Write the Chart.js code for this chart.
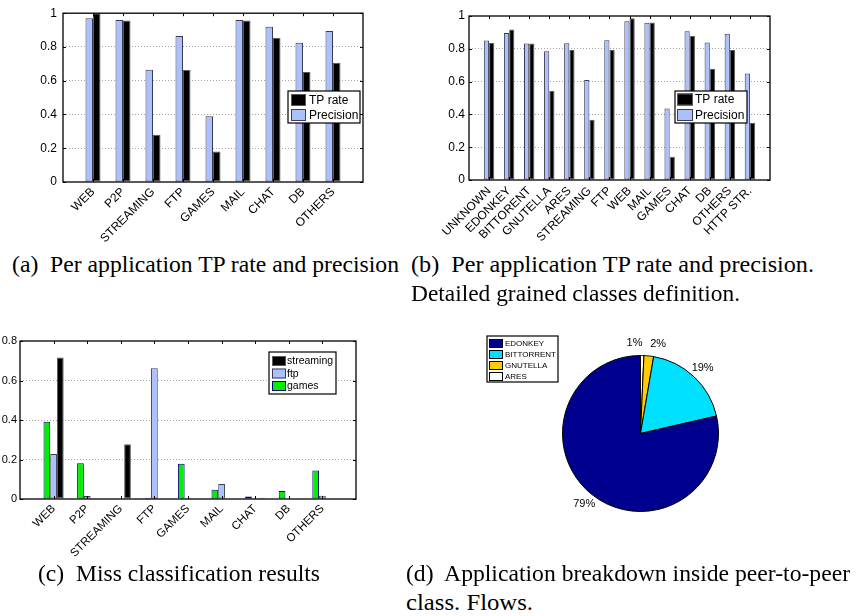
<!DOCTYPE html>
<html>
<head>
<meta charset="utf-8">
<script src="https://cdn.jsdelivr.net/npm/chart.js@4.4.1/dist/chart.umd.min.js"></script>
<style>
html,body{margin:0;padding:0;background:#fff;}
body{width:858px;height:616px;position:relative;overflow:hidden;}
canvas{position:absolute;}
.cap{position:absolute;font-family:"Liberation Serif","Times New Roman",serif;font-size:23px;line-height:23px;white-space:pre;transform-origin:0 0;color:#000;}
</style>
</head>
<body>
<canvas id="cA" width="430" height="245" style="left:0;top:0"></canvas>
<canvas id="cB" width="428" height="245" style="left:430px;top:0"></canvas>
<canvas id="cC" width="430" height="262" style="left:0;top:300px"></canvas>
<canvas id="cD" width="428" height="240" style="left:430px;top:300px"></canvas>
<script>
// ---------- data ----------
const catsA = ['WEB','P2P','STREAMING','FTP','GAMES','MAIL','CHAT','DB','OTHERS'];
const precisionA = [0.97,0.96,0.665,0.865,0.39,0.96,0.92,0.825,0.895];
const tpRateA = [1.0,0.957,0.28,0.663,0.18,0.957,0.855,0.652,0.707];

const catsB = ['UNKNOWN','EDONKEY','BITTORENT','GNUTELLA','ARES','STREAMING','FTP','WEB','MAIL','GAMES','CHAT','DB','OTHERS','HTTP STR.'];
const precisionB = [0.85,0.897,0.832,0.785,0.834,0.609,0.852,0.968,0.959,0.436,0.907,0.838,0.892,0.65];
const tpRateB = [0.836,0.917,0.832,0.544,0.793,0.367,0.793,0.986,0.961,0.142,0.878,0.677,0.793,0.349];

const catsC = ['WEB','P2P','STREAMING','FTP','GAMES','MAIL','CHAT','DB','OTHERS'];
const gamesC = [0.391,0.181,0.001,0.005,0.179,0.047,0.013,0.041,0.144];
const ftpC = [0.228,0.015,0.001,0.662,0.005,0.076,0.003,0.002,0.017];
const streamingC = [0.716,0.004,0.277,0,0.002,0,0.006,0,0.003];

const pieLabels = ['EDONKEY','BITTORRENT','GNUTELLA','ARES'];
const pieShares = [78.6,18.7,2.0,0.7];

const yTicksAB = [0,0.2,0.4,0.6,0.8,1];
const yTicksC = [0,0.2,0.4,0.6,0.8];

// ---------- styles ----------
const FONT = '"Liberation Sans", Arial, Helvetica, sans-serif';
const BLUE = '#abc1fd', BLUE_EDGE = '#3c3c4c';
const BLACK = '#000000', BLACK_EDGE = '#5a5a5a';
const GREEN = '#00f000', GREEN_EDGE = '#00007a';
const pieColors = ['#00008f','#00e0ff','#ffcc00','#ffffff'];

Chart.defaults.font.family = FONT;
Chart.defaults.color = '#000';
Chart.defaults.animation = false;

const framePlugin = {
  id: 'frame',
  afterDraw(chart) {
    const {ctx, chartArea: a, scales: {x, y}} = chart;
    ctx.save();
    ctx.strokeStyle = '#000';
    ctx.lineWidth = 1;
    const L = 3;
    ctx.beginPath();
    x.ticks.forEach(t => {
      const px = Math.round(x.getPixelForValue(t.value)) + 0.5;
      ctx.moveTo(px, a.bottom); ctx.lineTo(px, a.bottom - L);
      ctx.moveTo(px, a.top); ctx.lineTo(px, a.top + L);
    });
    y.ticks.forEach(t => {
      const py = Math.round(y.getPixelForValue(t.value)) + 0.5;
      ctx.moveTo(a.left, py); ctx.lineTo(a.left + L, py);
      ctx.moveTo(a.right, py); ctx.lineTo(a.right - L, py);
    });
    ctx.stroke();
    ctx.lineWidth = 1.3;
    ctx.strokeRect(a.left, a.top, a.width, a.height);
    ctx.restore();
  }
};

function boxLegend(box, rows) {
  return {
    id: 'boxLegend',
    afterDraw(chart) {
      const ctx = chart.ctx;
      ctx.save();
      ctx.fillStyle = '#fff';
      ctx.fillRect(box.x, box.y, box.w, box.h);
      ctx.lineWidth = 1.2;
      ctx.strokeStyle = '#000';
      ctx.strokeRect(box.x, box.y, box.w, box.h);
      ctx.font = box.font + 'px ' + FONT;
      ctx.textBaseline = 'middle';
      ctx.textAlign = 'left';
      rows.forEach((r, i) => {
        const cy = box.firstY + i * box.rowH;
        ctx.fillStyle = r.fill;
        ctx.fillRect(box.sx, cy - box.sh / 2, box.sw, box.sh);
        ctx.lineWidth = 1;
        ctx.strokeStyle = r.edge;
        ctx.strokeRect(box.sx + 0.5, cy - box.sh / 2 + 0.5, box.sw - 1, box.sh - 1);
        ctx.fillStyle = '#000';
        ctx.fillText(r.label, box.tx, cy + 0.5);
      });
      ctx.restore();
    }
  };
}

function barChart(id, cats, series, yTicks, cfg, legendBox) {
  const n = cats.length;
  const yMax = yTicks[yTicks.length - 1];
  const rows = series.slice().reverse().map(s => ({label: s.label, fill: s.fill, edge: s.edge}));
  return new Chart(document.getElementById(id), {
    type: 'bar',
    data: {
      datasets: series.map(s => ({
        label: s.label,
        data: s.values.map((v, i) => ({x: i + 1, y: v})),
        backgroundColor: s.fill,
        borderColor: s.edge,
        borderWidth: 1,
        borderSkipped: false,
        categoryPercentage: cfg.catPct,
        barPercentage: 1
      }))
    },
    options: {
      responsive: false,
      animation: false,
      events: [],
      layout: {padding: {left: 0, top: cfg.padTop, right: cfg.padRight, bottom: 0}},
      plugins: {legend: {display: false}, tooltip: {enabled: false}},
      scales: {
        x: {
          type: 'linear', min: 0, max: n + 1, offset: false,
          afterBuildTicks: s => { s.ticks = cats.map((c, i) => ({value: i + 1})); },
          afterFit: s => { s.height = cfg.xH; },
          grid: {display: false, drawTicks: false, offset: false},
          border: {display: false},
          ticks: {autoSkip: false, maxRotation: 45, minRotation: 45, padding: cfg.xPad,
                  font: {size: cfg.xFont}, callback: v => cats[Math.round(v) - 1] || ''}
        },
        y: {
          min: 0, max: yMax,
          afterBuildTicks: s => { s.ticks = yTicks.map(v => ({value: v})); },
          afterFit: s => { s.width = cfg.yW; },
          grid: {drawTicks: false, lineWidth: 0.8,
                 color: c => (c.tick && (c.tick.value <= 0 || c.tick.value >= yMax - 1e-9)) ? 'rgba(0,0,0,0)' : '#8c8c8c'},
          border: {display: false, dash: [1, 2]},
          ticks: {padding: cfg.yPad, font: {size: cfg.yFont}, callback: v => String(Math.round(v * 10) / 10)}
        }
      }
    },
    plugins: [framePlugin, boxLegend(legendBox, rows)]
  });
}

// (a)
barChart('cA', catsA, [
  {label: 'Precision', values: precisionA, fill: BLUE, edge: BLUE_EDGE},
  {label: 'TP rate', values: tpRateA, fill: BLACK, edge: BLACK_EDGE}
], yTicksAB,
  {catPct: 0.5, padTop: 8, padRight: 67, yW: 63, xH: 63, xPad: 3, yPad: 6, xFont: 12, yFont: 12},
  {x: 288, y: 91, w: 72, h: 32, font: 12, firstY: 100, rowH: 15, sx: 291, sw: 15, sh: 12, tx: 309});

// (b)
barChart('cB', catsB, [
  {label: 'Precision', values: precisionB, fill: BLUE, edge: BLUE_EDGE},
  {label: 'TP rate', values: tpRateB, fill: BLACK, edge: BLACK_EDGE}
], yTicksAB,
  {catPct: 0.52, padTop: 16, padRight: 88, yW: 39, xH: 65, xPad: 4, yPad: 4, xFont: 12, yFont: 12},
  {x: 245, y: 91, w: 72, h: 32, font: 12, firstY: 99.5, rowH: 15.5, sx: 247, sw: 16, sh: 12, tx: 265});

// (c)
barChart('cC', catsC, [
  {label: 'games', values: gamesC, fill: GREEN, edge: GREEN_EDGE},
  {label: 'ftp', values: ftpC, fill: BLUE, edge: BLUE_EDGE},
  {label: 'streaming', values: streamingC, fill: BLACK, edge: BLACK_EDGE}
], yTicksC,
  {catPct: 0.6, padTop: 41, padRight: 74, yW: 20, xH: 63, xPad: 3, yPad: 3, xFont: 11.5, yFont: 11},
  {x: 269, y: 52, w: 67, h: 42, font: 10.5, firstY: 61, rowH: 12.5, sx: 272, sw: 14, sh: 10, tx: 287});

// (d) pie: drawn clockwise from the top in reverse order so EDONKEY runs counter-clockwise from the top
const pieOrder = pieLabels.map((_, i) => pieLabels.length - 1 - i);
const pieTotal = pieShares.reduce((s, v) => s + v, 0);
const pieLabelPlugin = {
  id: 'pieLabels',
  afterDraw(chart) {
    const ctx = chart.ctx;
    const meta = chart.getDatasetMeta(0);
    const vals = chart.data.datasets[0].data;
    ctx.save();
    ctx.font = '11px ' + FONT;
    ctx.fillStyle = '#000';
    ctx.textBaseline = 'middle';
    let smallSeen = 0;
    meta.data.forEach((arc, i) => {
      const p = arc.getProps(['x', 'y', 'startAngle', 'endAngle', 'outerRadius']);
      const mid = (p.startAngle + p.endAngle) / 2;
      const r = p.outerRadius * 1.16;
      const pct = Math.round(vals[i] / pieTotal * 100);
      let align = 'center';
      if (pct < 5) { align = smallSeen === 0 ? 'right' : 'left'; smallSeen++; }
      ctx.textAlign = align;
      ctx.fillText(pct + '%', p.x + Math.cos(mid) * r, p.y + Math.sin(mid) * r);
    });
    ctx.restore();
  }
};
new Chart(document.getElementById('cD'), {
  type: 'pie',
  data: {
    labels: pieOrder.map(i => pieLabels[i]),
    datasets: [{
      data: pieOrder.map(i => pieShares[i]),
      backgroundColor: pieOrder.map(i => pieColors[i]),
      borderColor: '#000',
      borderWidth: 1,
      hoverOffset: 0
    }]
  },
  options: {
    responsive: false, animation: false, events: [],
    layout: {padding: {left: 132, top: 55, right: 139, bottom: 28}},
    plugins: {legend: {display: false}, tooltip: {enabled: false}}
  },
  plugins: [pieLabelPlugin, boxLegend(
    {x: 57, y: 36, w: 71, h: 46, font: 8, firstY: 43.5, rowH: 11, sx: 59, sw: 14, sh: 9, tx: 75},
    pieLabels.map((l, i) => ({label: l, fill: pieColors[i], edge: '#000'})))]
});

// ---------- captions ----------
const captions = [
  {text: '(a)  Per application TP rate and precision', left: 12, right: 399, base: 272},
  {text: '(b)  Per application TP rate and precision.', left: 411, right: 814, base: 272},
  {text: 'Detailed grained classes definition.', left: 411, right: 740, base: 301},
  {text: '(c)  Miss classification results', left: 38, right: 320, base: 581},
  {text: '(d)  Application breakdown inside peer-to-peer', left: 406, right: 850, base: 581},
  {text: 'class. Flows.', left: 406, right: 533, base: 610}
];
captions.forEach(c => {
  const d = document.createElement('div');
  d.className = 'cap';
  d.textContent = c.text;
  d.style.left = c.left + 'px';
  d.style.top = (c.base - 19.3) + 'px';
  document.body.appendChild(d);
  const w = d.getBoundingClientRect().width;
  if (w > 0) d.style.transform = 'scaleX(' + ((c.right - c.left) / w).toFixed(4) + ')';
});
</script>
</body>
</html>
